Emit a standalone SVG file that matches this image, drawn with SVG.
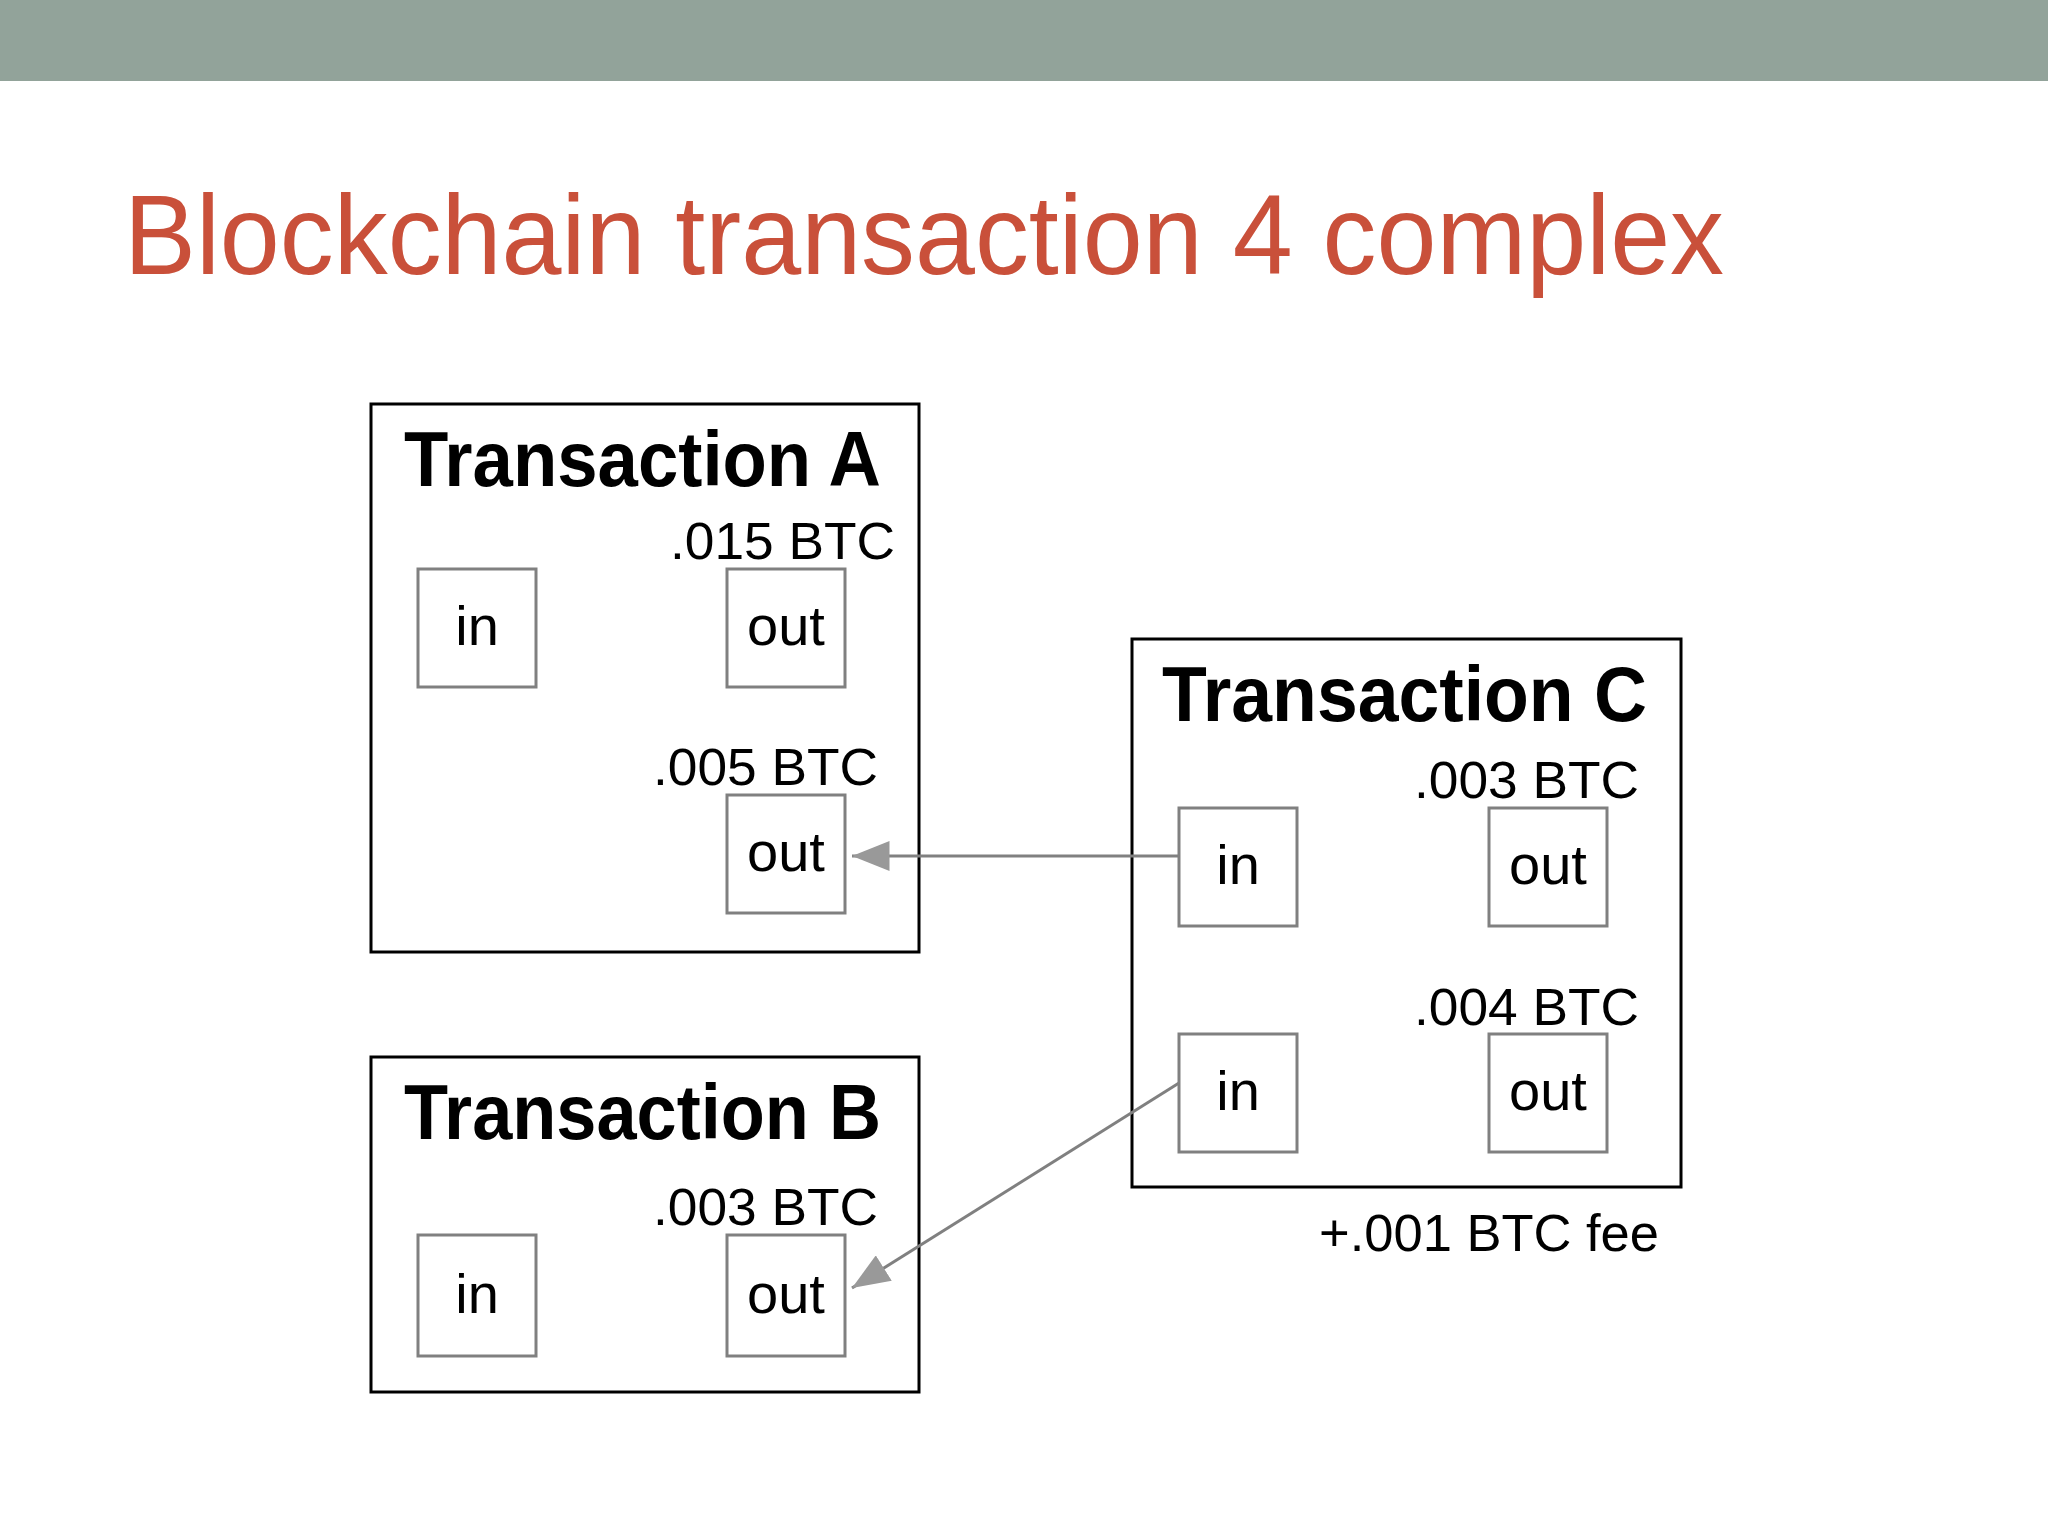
<svg xmlns="http://www.w3.org/2000/svg" width="2048" height="1536" viewBox="0 0 2048 1536">
<style>
.big{fill:#fff;stroke:#000;stroke-width:3}
.sm{fill:#fff;stroke:#808080;stroke-width:3}
.tt{font-family:"Liberation Sans",Arial,sans-serif;font-weight:bold;font-size:78px;fill:#000}
.lb{font-family:"Liberation Sans",Arial,sans-serif;font-size:52px;fill:#000}
.io{font-family:"Liberation Sans",Arial,sans-serif;font-size:56px;fill:#000;text-anchor:middle}
.c{stroke:#808080;stroke-width:3;fill:none}
</style>
<defs><marker id="ah" markerWidth="10" markerHeight="8" refX="10" refY="4" orient="auto" markerUnits="userSpaceOnUse" viewBox="0 0 10 8"><path d="M0,0 L10,4 L0,8 Z" fill="#808080"/></marker>
<marker id="a2" viewBox="0 0 10 8" refX="10" refY="4" markerWidth="38" markerHeight="30" orient="auto" markerUnits="userSpaceOnUse"><path d="M0,0 L10,4 L0,8 Z" fill="#999"/></marker></defs>
<rect width="2048" height="1536" fill="#fff"/>
<rect width="2048" height="81" fill="#92A39A"/>
<text x="124" y="274" font-family="Liberation Sans,Arial,sans-serif" font-size="113" fill="#C9503A" textLength="1600" lengthAdjust="spacingAndGlyphs">Blockchain transaction 4 complex</text>
<g id="txA">
<rect class="big" x="371" y="404" width="548" height="548"/>
<text class="tt" x="404" y="486" textLength="477" lengthAdjust="spacingAndGlyphs">Transaction A</text>
<text class="lb" x="670" y="559" textLength="225" lengthAdjust="spacingAndGlyphs">.015 BTC</text>
<rect class="sm" x="418" y="569" width="118" height="118"/><text class="io" x="477" y="645">in</text>
<rect class="sm" x="727" y="569" width="118" height="118"/><text class="io" x="786" y="645">out</text>
<text class="lb" x="653" y="785" textLength="225" lengthAdjust="spacingAndGlyphs">.005 BTC</text>
<rect class="sm" x="727" y="795" width="118" height="118"/><text class="io" x="786" y="871">out</text>
</g>
<g id="txB">
<rect class="big" x="371" y="1057" width="548" height="335"/>
<text class="tt" x="404" y="1139" textLength="477" lengthAdjust="spacingAndGlyphs">Transaction B</text>
<text class="lb" x="653" y="1225" textLength="225" lengthAdjust="spacingAndGlyphs">.003 BTC</text>
<rect class="sm" x="418" y="1235" width="118" height="121"/><text class="io" x="477" y="1313">in</text>
<rect class="sm" x="727" y="1235" width="118" height="121"/><text class="io" x="786" y="1313">out</text>
</g>
<g id="txC">
<rect class="big" x="1132" y="639" width="549" height="548"/>
<text class="tt" x="1162" y="721" textLength="485" lengthAdjust="spacingAndGlyphs">Transaction C</text>
<text class="lb" x="1414" y="798" textLength="225" lengthAdjust="spacingAndGlyphs">.003 BTC</text>
<rect class="sm" x="1179" y="808" width="118" height="118"/><text class="io" x="1238" y="884">in</text>
<rect class="sm" x="1489" y="808" width="118" height="118"/><text class="io" x="1548" y="884">out</text>
<text class="lb" x="1414" y="1025" textLength="225" lengthAdjust="spacingAndGlyphs">.004 BTC</text>
<rect class="sm" x="1179" y="1034" width="118" height="118"/><text class="io" x="1238" y="1110">in</text>
<rect class="sm" x="1489" y="1034" width="118" height="118"/><text class="io" x="1548" y="1110">out</text>
<text class="lb" x="1319" y="1251" textLength="340" lengthAdjust="spacingAndGlyphs">+.001 BTC fee</text>
</g>
<g id="connectors">
<line class="c" x1="1179" y1="856" x2="852" y2="856" marker-end="url(#a2)"/>
<line class="c" x1="1179" y1="1083" x2="852" y2="1288" stroke="#999" marker-end="url(#a2)"/>
</g>
</svg>
